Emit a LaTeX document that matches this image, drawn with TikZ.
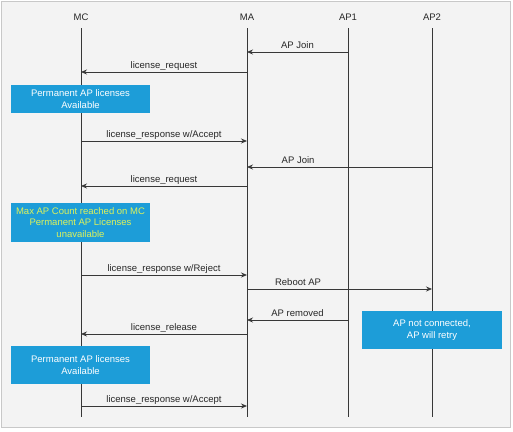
\documentclass[tikz,border=0pt]{standalone}
\usepackage{fontspec}
\setmainfont{Liberation Sans}
\usetikzlibrary{arrows.meta}
\definecolor{boxblue}{RGB}{29,157,216}
\definecolor{noteyellow}{RGB}{222,242,90}
\definecolor{panelgray}{RGB}{243,243,243}
\definecolor{framegray}{RGB}{200,200,200}
\definecolor{linegray}{RGB}{55,55,55}
\tikzset{
  head/.style={font=\fontsize{9.5}{11.5}\selectfont, text=black!85},
  life/.style={draw=linegray, line width=1pt},
  msg/.style={draw=linegray, line width=0.8pt, -{Stealth[length=6pt,width=5pt]}},
  lbl/.style={font=\fontsize{9.5}{11.5}\selectfont, text=black!85, inner sep=1.5pt, text height=7pt, text depth=2pt},
  note/.style={fill=boxblue, text=white, align=center, font=\fontsize{9.5}{11.7}\selectfont, minimum width=139pt, inner sep=0pt}
}
% [pos]{label name}{from}{to}{y}{text}
\newcommand{\msg}[6][0.5]{ \draw[msg] (#3 |- 0,#5) -- (#4 |- 0,#5) node[lbl, pos=#1, above] (#2) {#6};}
\newcommand{\life}[1]{ \draw[life] (#1 |- 0,28) -- (#1 |- 0,417);}

\begin{document}
\begin{tikzpicture}[x=1pt, y=-1pt]
        \useasboundingbox (0,0) rectangle (513,431);
        \draw[fill=panelgray, draw=framegray, line width=1pt] (1.5,1) rectangle (510,427);
        % heads
        \node[head] (mc) at (81,17) {MC};
        \node[head] (ma) at (247,17) {MA};
        \node[head] (ap1) at (348,17) {AP1};
        \node[head] (ap2) at (432,17) {AP2};
        % lifelines
        \life{mc}
        \life{ma}
        \life{ap1}
        \life{ap2}
        % first AP
        \msg{join1}{ap1}{ma}{52}{AP Join}
        \msg{req1}{ma}{mc}{72}{license\_request}
        \node[note, minimum height=28pt] (avail1) at (80.5,99) {Permanent AP licenses\\Available};
        \msg{acc1}{mc}{ma}{141}{license\_response w/Accept}
        % second AP
        \msg[0.724]{join2}{ap2}{ma}{167}{AP Join}
        \msg{req2}{ma}{mc}{186}{license\_request}
        \node[note, minimum height=39pt, text=noteyellow] (maxed) at (80.5,222.5) {Max AP Count reached on MC\\Permanent AP Licenses\\unavailable};
        \msg{rej}{mc}{ma}{275}{license\_response w/Reject}
        \msg[0.276]{reboot}{ma}{ap2}{289}{Reboot AP}
        \msg{removed}{ap1}{ma}{320}{AP removed}
        \node[note, minimum width=140pt, minimum height=38pt] (retry) at (432,330) {AP not connected,\\AP will retry};
        % release
        \msg{rel}{ma}{mc}{334}{license\_release}
        \node[note, minimum height=38pt] (avail2) at (80.5,365) {Permanent AP licenses\\Available};
        \msg{acc2}{mc}{ma}{406}{license\_response w/Accept}
\end{tikzpicture}
\end{document}
